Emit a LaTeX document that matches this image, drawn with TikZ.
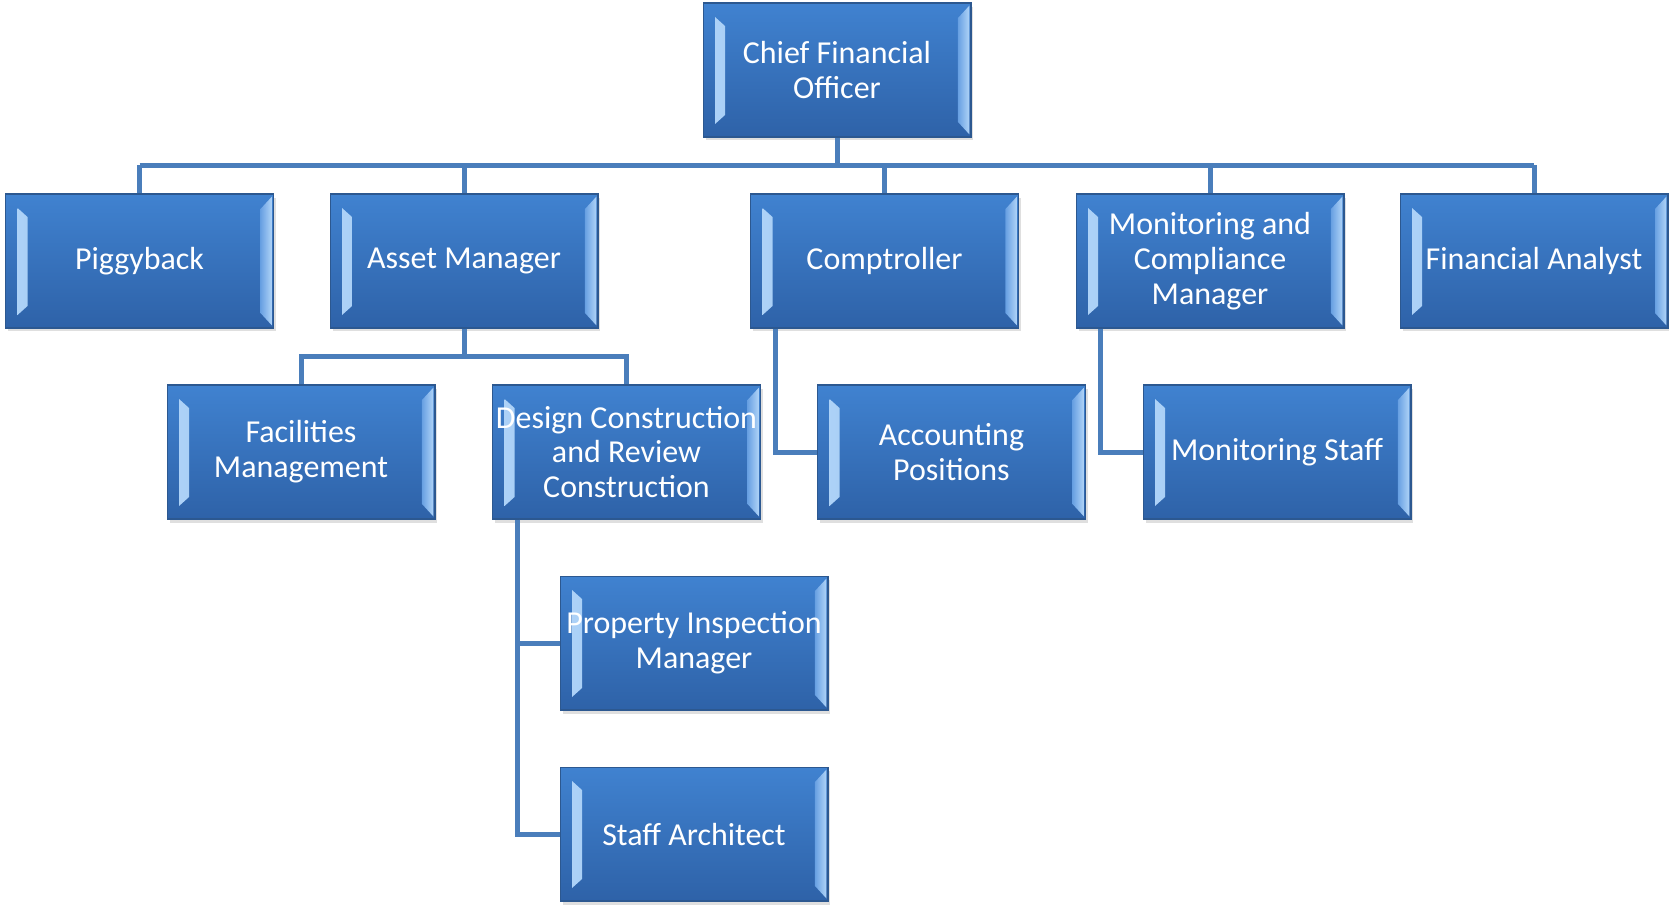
\documentclass[tikz,border=0pt]{standalone}
\usepackage{fontspec}
\setmainfont{Carlito}
\usepackage{tikz}
\usetikzlibrary{shadows}

\definecolor{boxtop}{RGB}{64,130,208}
\definecolor{boxbot}{RGB}{46,98,168}
\definecolor{boxline}{RGB}{44,88,144}
\definecolor{bevlight}{RGB}{176,212,248}
\definecolor{bevdark}{RGB}{104,160,226}
\definecolor{linkblue}{RGB}{74,126,187}

\tikzset{
	orgbox/.style={rectangle, minimum width=5.36cm, minimum height=2.68cm,
		top color=boxtop, bottom color=boxbot, draw=boxline, line width=0.6pt,
		text=white, align=center, inner sep=0pt,
		font=\fontsize{18.2}{19.8}\selectfont,
		drop shadow={shadow xshift=0.05cm, shadow yshift=-0.07cm, opacity=0.25},
		path picture={
			\shade[left color=bevlight, right color=bevdark]
				([shift={(0.24cm,-0.28cm)}]path picture bounding box.north west)
				-- ([shift={(0.44cm,-0.46cm)}]path picture bounding box.north west)
				-- ([shift={(0.44cm,0.44cm)}]path picture bounding box.south west)
				-- ([shift={(0.24cm,0.26cm)}]path picture bounding box.south west) -- cycle;
			\shade[left color=bevdark, right color=bevlight]
				([shift={(-0.26cm,-0.30cm)}]path picture bounding box.north east)
				-- ([shift={(-0.03cm,-0.05cm)}]path picture bounding box.north east)
				-- ([shift={(-0.03cm,0.05cm)}]path picture bounding box.south east)
				-- ([shift={(-0.26cm,0.30cm)}]path picture bounding box.south east) -- cycle;
		}},
	link/.style={draw=linkblue, line width=0.1cm}
}

\begin{document}
\begin{tikzpicture}[x=0.02cm, y=-0.02cm]

	\useasboundingbox (0,0) rectangle (1669,904);

	\node[orgbox] (cfo) at (837,70) {Chief Financial\\Officer};

	\node[orgbox] (pig) at (139.5,261) {Piggyback};
	\node[orgbox] (asset) at (464,261) {Asset Manager};
	\node[orgbox] (compt) at (884.5,261) {Comptroller};
	\node[orgbox] (moncomp) at (1210,261) {Monitoring and\\Compliance\\Manager};
	\node[orgbox] (fin) at (1534,261) {Financial Analyst};

	\node[orgbox] (fac) at (301,452) {Facilities\\Management};
	\node[orgbox] (design) at (626.5,452) {Design Construction\\and Review\\Construction};
	\node[orgbox] (acct) at (951.5,452) {Accounting\\Positions};
	\node[orgbox] (monstaff) at (1277,452) {Monitoring Staff};

	\node[orgbox] (prop) at (694,643) {Property Inspection\\Manager};
	\node[orgbox] (staff) at (694,834) {Staff Architect};

	\coordinate (bus) at (837,165);
	\coordinate (abus) at (464,356);

	\draw[link] (cfo.south) -- (bus);
	\draw[link] (pig.north |- bus) -- (fin.north |- bus);
	\foreach \n in {pig, asset, compt, moncomp, fin}{
		\draw[link] (\n.north) -- (\n.north |- bus);
	}

	\draw[link] (asset.south) -- (abus);
	\draw[link] (fac.north) -- (fac.north |- abus) -- (design.north |- abus) -- (design.north);

	\draw[link] ([xshift=0.5cm]compt.south west) |- (acct.west);
	\draw[link] ([xshift=0.5cm]moncomp.south west) |- (monstaff.west);
	\draw[link] ([xshift=0.5cm]design.south west) |- (prop.west);
	\draw[link] ([xshift=0.5cm]design.south west) |- (staff.west);

\end{tikzpicture}
\end{document}
